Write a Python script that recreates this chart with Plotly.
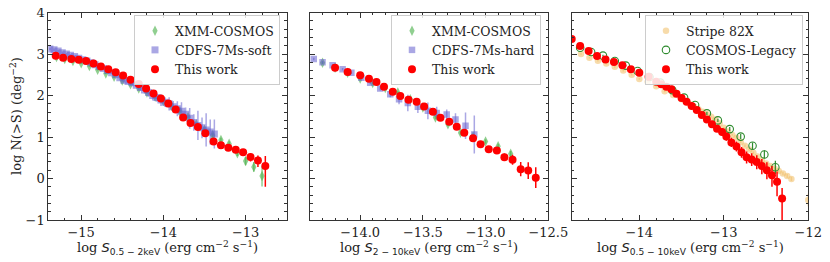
import plotly.graph_objects as go

# ---------------- Panel 1 : 0.5-2 keV ----------------
p1_xmm_x = [-15.3, -15.2, -15.1, -15.0, -14.9, -14.8, -14.7, -14.6, -14.5, -14.4, -14.3, -14.2, -14.1,
            -14.0, -13.9, -13.8, -13.7, -13.6, -13.5, -13.4, -13.3, -13.2, -13.1, -13.0, -12.9, -12.8]
p1_xmm_y = [2.93, 2.88, 2.83, 2.78, 2.71, 2.62, 2.53, 2.45, 2.36, 2.27, 2.17, 2.07, 1.97,
            1.87, 1.75, 1.62, 1.48, 1.30, 1.17, 1.04, 0.93, 0.84, 0.61, 0.42, 0.28, 0.06]
p1_xmm_e = [0.02, 0.02, 0.02, 0.02, 0.02, 0.02, 0.02, 0.02, 0.02, 0.02, 0.03, 0.03, 0.03,
            0.03, 0.03, 0.04, 0.04, 0.04, 0.05, 0.05, 0.05, 0.06, 0.07, 0.10, 0.12, 0.25]

p1_cdfs_x = [-15.38, -15.33, -15.28, -15.23, -15.18, -15.13, -15.08, -15.03, -14.98, -14.93, -14.88,
             -14.83, -14.78, -14.73, -14.68, -14.63, -14.58, -14.53, -14.48, -14.43, -14.38, -14.33,
             -14.28, -14.23, -14.18, -14.13, -14.08, -14.03, -13.98, -13.93, -13.88, -13.83, -13.78,
             -13.73, -13.68, -13.63, -13.58, -13.53, -13.48, -13.43, -13.38]
p1_cdfs_y = [3.12, 3.10, 3.07, 3.03, 3.00, 2.97, 2.94, 2.90, 2.86, 2.83, 2.79,
             2.74, 2.70, 2.65, 2.60, 2.55, 2.50, 2.43, 2.37, 2.34, 2.31, 2.25,
             2.19, 2.13, 2.07, 2.00, 1.95, 1.89, 1.84, 1.80, 1.73, 1.68, 1.62,
             1.55, 1.45, 1.35, 1.28, 1.22, 1.17, 1.12, 1.07]
p1_cdfs_e = [0.03, 0.03, 0.03, 0.03, 0.03, 0.03, 0.03, 0.03, 0.03, 0.03, 0.03,
             0.03, 0.03, 0.04, 0.04, 0.04, 0.04, 0.05, 0.05, 0.05, 0.06, 0.06,
             0.07, 0.08, 0.10, 0.12, 0.10, 0.14, 0.12, 0.16, 0.14, 0.18, 0.22,
             0.16, 0.25, 0.20, 0.35, 0.25, 0.40, 0.30, 0.35]

p1_this_x = [-15.31, -15.22, -15.12, -15.03, -14.94, -14.85, -14.76, -14.67, -14.58, -14.49, -14.40,
             -14.30, -14.21, -14.12, -14.03, -13.94, -13.85, -13.76, -13.67, -13.58, -13.49, -13.39,
             -13.30, -13.21, -13.12, -13.03, -12.94, -12.85, -12.76]
p1_this_y = [2.96, 2.91, 2.88, 2.86, 2.83, 2.77, 2.70, 2.63, 2.56, 2.48, 2.38,
             2.28, 2.17, 2.05, 1.93, 1.81, 1.66, 1.47, 1.34, 1.24, 1.09, 0.89,
             0.80, 0.74, 0.69, 0.63, 0.52, 0.435, 0.30]
p1_this_ep = [0.02, 0.02, 0.02, 0.02, 0.02, 0.02, 0.02, 0.02, 0.02, 0.02, 0.02,
              0.02, 0.02, 0.03, 0.03, 0.03, 0.03, 0.03, 0.03, 0.04, 0.04, 0.05,
              0.05, 0.05, 0.06, 0.07, 0.09, 0.12, 0.24]
p1_this_em = [0.02, 0.02, 0.02, 0.02, 0.02, 0.02, 0.02, 0.02, 0.02, 0.02, 0.02,
              0.02, 0.02, 0.03, 0.03, 0.03, 0.03, 0.03, 0.03, 0.04, 0.04, 0.05,
              0.05, 0.05, 0.06, 0.08, 0.11, 0.16, 0.50]

# ---------------- Panel 2 : 2-10 keV ----------------
p2_xmm_x = [-14.3, -14.2, -14.1, -14.0, -13.9, -13.8, -13.7, -13.6, -13.5, -13.4, -13.3, -13.2,
            -13.1, -13.0, -12.9, -12.8]
p2_xmm_y = [2.79, 2.67, 2.55, 2.41, 2.30, 2.18, 2.07, 1.91, 1.71, 1.47, 1.31, 1.10,
            1.01, 0.89, 0.78, 0.595]
p2_xmm_e = [0.03, 0.03, 0.03, 0.03, 0.03, 0.03, 0.03, 0.03, 0.04, 0.04, 0.04, 0.04,
            0.05, 0.05, 0.06, 0.07]

p2_cdfs_x = [-14.37, -14.30, -14.22, -14.14, -14.07, -13.99, -13.92, -13.84, -13.76, -13.69, -13.62,
             -13.54, -13.46, -13.39, -13.31, -13.24, -13.16, -13.09]
p2_cdfs_y = [2.88, 2.80, 2.73, 2.63, 2.55, 2.43, 2.31, 2.17, 2.03, 1.91, 1.82,
             1.73, 1.63, 1.58, 1.54, 1.42, 1.27, 1.06]
p2_cdfs_e = [0.03, 0.03, 0.03, 0.03, 0.03, 0.04, 0.04, 0.05, 0.07, 0.12, 0.20,
             0.15, 0.20, 0.15, 0.12, 0.15, 0.32, 0.46]

p2_this_x = [-14.20, -14.10, -14.00, -13.93, -13.87, -13.81, -13.74, -13.68, -13.615, -13.55, -13.49,
             -13.42, -13.36, -13.29, -13.23, -13.17, -13.10, -13.04, -12.975, -12.91, -12.85, -12.785,
             -12.72, -12.66, -12.60]
p2_this_y = [2.67, 2.565, 2.49, 2.405, 2.325, 2.21, 2.09, 1.99, 1.90, 1.85, 1.735,
             1.61, 1.465, 1.37, 1.25, 1.10, 0.97, 0.825, 0.705, 0.675, 0.515, 0.45,
             0.225, 0.19, 0.02]
p2_this_e = [0.04, 0.03, 0.03, 0.03, 0.03, 0.03, 0.03, 0.03, 0.03, 0.03, 0.04,
             0.04, 0.04, 0.04, 0.05, 0.05, 0.06, 0.07, 0.07, 0.08, 0.09, 0.12,
             0.17, 0.20, 0.25]

# ---------------- Panel 3 : 0.5-10 keV ----------------
p3_s82_x = [-14.69, -14.59, -14.49, -14.39, -14.29, -14.19, -14.09, -14.00, -13.90, -13.80, -13.70,
            -13.60, -13.50, -13.45, -13.40, -13.35, -13.30, -13.25, -13.20, -13.15, -13.10, -13.05,
            -13.00, -12.95, -12.90, -12.85, -12.80, -12.75, -12.70, -12.65, -12.60, -12.55, -12.50,
            -12.45, -12.40, -12.35, -12.30, -12.25, -12.20, -12.00]
p3_s82_y = [3.00, 2.91, 2.84, 2.77, 2.69, 2.60, 2.50, 2.40, 2.33, 2.22, 2.10,
            2.01, 1.91, 1.86, 1.79, 1.73, 1.67, 1.61, 1.55, 1.49, 1.42, 1.33,
            1.22, 1.13, 1.05, 0.98, 0.88, 0.79, 0.70, 0.62, 0.53, 0.44, 0.36,
            0.30, 0.24, 0.18, 0.12, 0.06, -0.01, -0.52]
p3_s82_e = [0.02, 0.02, 0.02, 0.02, 0.02, 0.02, 0.02, 0.02, 0.02, 0.02, 0.02,
            0.02, 0.02, 0.02, 0.02, 0.02, 0.02, 0.02, 0.02, 0.02, 0.02, 0.02,
            0.02, 0.02, 0.02, 0.03, 0.03, 0.03, 0.03, 0.03, 0.03, 0.03, 0.03,
            0.03, 0.04, 0.04, 0.04, 0.05, 0.05, 0.15]

p3_cl_x = [-14.70, -14.57, -14.43, -14.29, -14.16, -14.02, -13.88, -13.75, -13.61, -13.47, -13.34,
           -13.20, -13.07, -12.93, -12.80, -12.66, -12.52, -12.39]
p3_cl_y = [3.15, 3.05, 2.96, 2.83, 2.72, 2.59, 2.445, 2.31, 2.13, 1.95, 1.77,
           1.57, 1.40, 1.19, 1.01, 0.79, 0.58, 0.27]
p3_cl_e = [0.02, 0.02, 0.02, 0.02, 0.02, 0.02, 0.02, 0.02, 0.03, 0.03, 0.03,
           0.04, 0.04, 0.05, 0.06, 0.08, 0.10, 0.16]

p3_this_x = [-14.80, -14.70, -14.60, -14.50, -14.40, -14.30, -14.20, -14.10, -14.00, -13.89, -13.80,
             -13.74, -13.68, -13.62, -13.56, -13.50, -13.44, -13.38, -13.32, -13.26, -13.20, -13.14,
             -13.08, -13.02, -12.97, -12.91, -12.85, -12.79, -12.73, -12.67, -12.61, -12.55, -12.49,
             -12.43, -12.37, -12.31]
p3_this_y = [3.36, 3.19, 3.07, 2.95, 2.87, 2.81, 2.73, 2.63, 2.55, 2.45, 2.33,
             2.27, 2.21, 2.15, 2.04, 1.94, 1.85, 1.75, 1.65, 1.53, 1.42, 1.31,
             1.20, 1.12, 1.01, 0.87, 0.77, 0.63, 0.51, 0.46, 0.40, 0.30, 0.20,
             0.08, -0.08, -0.48]
p3_this_ep = [0.02, 0.02, 0.02, 0.02, 0.02, 0.02, 0.02, 0.02, 0.03, 0.03, 0.03,
              0.03, 0.03, 0.04, 0.04, 0.04, 0.05, 0.05, 0.06, 0.06, 0.07, 0.08,
              0.08, 0.09, 0.10, 0.11, 0.12, 0.13, 0.14, 0.15, 0.16, 0.17, 0.19,
              0.22, 0.25, 0.25]
p3_this_em = [0.02, 0.02, 0.02, 0.02, 0.02, 0.02, 0.02, 0.02, 0.03, 0.03, 0.03,
              0.03, 0.03, 0.04, 0.04, 0.04, 0.05, 0.05, 0.06, 0.06, 0.07, 0.08,
              0.08, 0.09, 0.10, 0.11, 0.12, 0.13, 0.15, 0.16, 0.18, 0.20, 0.22,
              0.28, 0.35, 0.70]

# ---------------- styles ----------------
RED = "#ff0000"
XMM = "rgba(70,175,70,0.6)"
CDFS = "rgba(100,95,205,0.55)"
S82 = "rgba(240,190,100,0.55)"
CLEG = "#2e8b2e"
SERIF = "DejaVu Serif"

fig = go.Figure()


def add(x, y, ep, name, xa, ya, leg, symbol, color, size, ethick, em=None, line=None):
    err = dict(type="data", array=ep, visible=True, color=color, thickness=ethick, width=0)
    if em is not None:
        err["symmetric"] = False
        err["arrayminus"] = em
    mk = dict(symbol=symbol, size=size, color=color,
              line=line if line is not None else dict(width=0))
    fig.add_trace(go.Scatter(x=x, y=y, mode="markers", name=name, xaxis=xa, yaxis=ya,
                             legend=leg, marker=mk, error_y=err))


add(p1_xmm_x, p1_xmm_y, p1_xmm_e, "XMM-COSMOS", "x", "y", "legend", "diamond-tall", XMM, 7.5, 1.5)
add(p1_cdfs_x, p1_cdfs_y, p1_cdfs_e, "CDFS-7Ms-soft", "x", "y", "legend", "square", CDFS, 7, 1.5)
add(p1_this_x, p1_this_y, p1_this_ep, "This work", "x", "y", "legend", "circle", RED, 8, 1.5, em=p1_this_em)

add(p2_xmm_x, p2_xmm_y, p2_xmm_e, "XMM-COSMOS", "x2", "y2", "legend2", "diamond-tall", XMM, 7.5, 1.5)
add(p2_cdfs_x, p2_cdfs_y, p2_cdfs_e, "CDFS-7Ms-hard", "x2", "y2", "legend2", "square", CDFS, 6.5, 1.5)
add(p2_this_x, p2_this_y, p2_this_e, "This work", "x2", "y2", "legend2", "circle", RED, 8, 1.5)

add(p3_s82_x, p3_s82_y, p3_s82_e, "Stripe 82X", "x3", "y3", "legend3", "circle", S82, 6.5, 1.5)
add(p3_cl_x, p3_cl_y, p3_cl_e, "COSMOS-Legacy", "x3", "y3", "legend3", "circle-open", CLEG, 7.5, 1.2,
    line=dict(width=1.1, color=CLEG))
add(p3_this_x, p3_this_y, p3_this_ep, "This work", "x3", "y3", "legend3", "circle", RED, 8, 1.5, em=p3_this_em)

# The page body adds an 8px offset; the figure is sized so that it fills the 830x262 window.
OFF = 8
W, H = 830 - OFF, 262 - OFF


def px(p):
    return (p - OFF) / W


def py(p):
    return (H - (p - OFF)) / H


ydom = [py(220), py(12.5)]
xdoms = [[px(48.3), px(286.7)], [px(310), px(548.3)], [px(571.7), px(808.3)]]
ax_common = dict(showline=True, linecolor="#333", linewidth=1, mirror="ticks", ticks="inside",
                 ticklen=5, tickwidth=1, tickcolor="#333", showgrid=False, zeroline=False,
                 automargin=False, ticklabeloverflow="allow",
                 tickfont=dict(family=SERIF, size=13, color="#222"))


def minor(dt, t0):
    return dict(dtick=dt, tick0=t0, ticks="inside", ticklen=2.5, tickcolor="#333", showgrid=False)


fig.update_layout(
    width=W, height=H, margin=dict(l=0, r=0, t=0, b=0, autoexpand=False),
    paper_bgcolor="white", plot_bgcolor="white",
    font=dict(family=SERIF, size=13, color="#222"),
    xaxis=dict(domain=xdoms[0], range=[-15.4, -12.5], dtick=1, tick0=-15, anchor="y",
               minor=minor(0.2, -15), **ax_common),
    xaxis2=dict(domain=xdoms[1], range=[-14.4, -12.5], dtick=0.5, tick0=-14, tickformat=".1f", anchor="y2",
                minor=minor(0.1, -14), **ax_common),
    xaxis3=dict(domain=xdoms[2], range=[-14.8, -12.0], dtick=1, tick0=-14, anchor="y3",
                minor=minor(0.2, -14), **ax_common),
    yaxis=dict(domain=ydom, range=[-1, 4], dtick=1, tick0=0, anchor="x",
               minor=minor(0.2, 0), **ax_common),
    yaxis2=dict(domain=ydom, range=[-1, 4], dtick=1, tick0=0, anchor="x2", showticklabels=False,
                minor=minor(0.2, 0), **ax_common),
    yaxis3=dict(domain=ydom, range=[-1, 4], dtick=1, tick0=0, anchor="x3", showticklabels=False,
                minor=minor(0.2, 0), **ax_common),
)

leg_common = dict(bgcolor="rgba(255,255,255,0.85)", bordercolor="#cccccc", borderwidth=1,
                  font=dict(family=SERIF, size=12.5, color="#222"), xanchor="right", yanchor="top",
                  tracegroupgap=0)
fig.update_layout(
    legend=dict(x=px(280), y=py(15), **leg_common),
    legend2=dict(x=px(541), y=py(15), **leg_common),
    legend3=dict(x=px(803), y=py(15), **leg_common),
)

SANS = "DejaVu Sans"
xt = [
    "log <i><span style=\"font-family:'%s'\">S</span></i><sub><span style=\"font-family:'%s'\">0.5 − 2keV</span></sub> (erg cm<sup>−2</sup> s<sup>−1</sup>)" % (SANS, SANS),
    "log <i><span style=\"font-family:'%s'\">S</span></i><sub><span style=\"font-family:'%s'\">2 − 10keV</span></sub> (erg cm<sup>−2</sup> s<sup>−1</sup>)" % (SANS, SANS),
    "log <i><span style=\"font-family:'%s'\">S</span></i><sub><span style=\"font-family:'%s'\">0.5 − 10keV</span></sub> (erg cm<sup>−2</sup> s<sup>−1</sup>)" % (SANS, SANS),
]
for d, t in zip(xdoms, xt):
    fig.add_annotation(text=t, x=(d[0] + d[1]) / 2, y=py(248), xref="paper", yref="paper",
                       showarrow=False, xanchor="center", yanchor="middle",
                       font=dict(family=SERIF, size=13, color="#222"))
fig.add_annotation(text="log N(>S) (deg<sup>−2</sup>)", x=px(16), y=py(116), xref="paper", yref="paper",
                   showarrow=False, textangle=-90, xanchor="center", yanchor="middle",
                   font=dict(family=SERIF, size=13, color="#222"))

fig.write_html("out.html")
